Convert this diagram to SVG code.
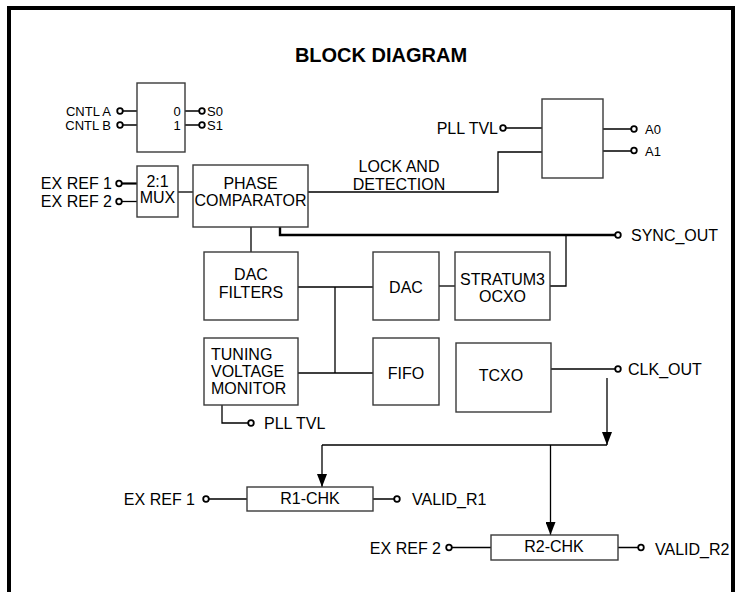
<svg xmlns="http://www.w3.org/2000/svg" width="739" height="592" viewBox="0 0 739 592">
<style>
.box{fill:#fff;stroke:#3a3a3a;stroke-width:1.4}
.ln{fill:none;stroke:#000;stroke-width:1.3}
.pin{fill:#fff;stroke:#000;stroke-width:1.8}
text{font-family:"Liberation Sans",Arial,sans-serif;font-size:16px;fill:#000}
.s{font-size:13px}
.c{text-anchor:middle}
.r{text-anchor:end}
</style>
<defs>
<marker id="arr" markerWidth="10" markerHeight="13" refX="5" refY="13" orient="0" markerUnits="userSpaceOnUse">
<path d="M0,0 L10,0 L5,13 Z" fill="#000"/>
</marker>
</defs>
<rect x="0" y="0" width="739" height="592" fill="#fff"/>
<path d="M9,600 V8 H733 V600" fill="none" stroke="#000" stroke-width="4"/>
<text x="381" y="62" class="c" style="font-size:20px;font-weight:bold">BLOCK DIAGRAM</text>

<g id="connectors">
<path class="ln" d="M123,111 H137 M123,125 H137 M185,111 H199 M185,125 H199"/>
<path class="ln" d="M122,183.5 H137" style="stroke-width:2.2"/>
<path class="ln" d="M122,201.5 H137"/>
<path class="ln" d="M178,192 H193"/>
<path class="ln" d="M308,192 H498 V152 H542"/>
<path class="ln" d="M506,128 H542"/>
<path class="ln" d="M603,129 H631 M603,151 H631"/>
<path class="ln" d="M280,227 V235 H615" style="stroke-width:2.4"/>
<path class="ln" d="M251,227 V252"/>
<path class="ln" d="M298,287 H373 M298,373 H373 M335,287 V373"/>
<path class="ln" d="M439,286 H455"/>
<path class="ln" d="M550,286 H566 V235"/>
<path class="ln" d="M551,369 H615"/>
<path class="ln" d="M607,378 V445" marker-end="url(#arr)"/>
<path class="ln" d="M607,445 H322"/>
<path class="ln" d="M322,445 V487" marker-end="url(#arr)"/>
<path class="ln" d="M550.5,445 V535" marker-end="url(#arr)"/>
<path class="ln" d="M222,405 V423 H248"/>
<path class="ln" d="M209,499 H247 M373,499 H394"/>
<path class="ln" d="M452,547.5 H491 M618,547.5 H638"/>
</g>

<g id="sel">
<rect class="box" x="137" y="83" width="48" height="69"/>
<text x="177" y="115.5" class="s c">0</text>
<text x="177" y="129.5" class="s c">1</text>
</g>
<g id="cntl">
<text x="111" y="115.5" class="s r">CNTL A</text>
<text x="111" y="129.5" class="s r">CNTL B</text>
<circle class="pin" cx="120" cy="111" r="2.8"/>
<circle class="pin" cx="120" cy="125" r="2.8"/>
<circle class="pin" cx="202" cy="111" r="2.8"/>
<circle class="pin" cx="202" cy="125" r="2.8"/>
<text x="207" y="115.5" class="s">S0</text>
<text x="207" y="129.5" class="s">S1</text>
</g>
<g id="mux">
<rect class="box" x="137" y="166" width="41" height="51"/>
<text x="157.5" y="187" class="c">2:1</text>
<text x="157.5" y="203" class="c">MUX</text>
</g>
<g id="exref-top">
<text x="112" y="189" class="r">EX REF 1</text>
<text x="112" y="207" class="r">EX REF 2</text>
<circle class="pin" cx="119" cy="183.5" r="2.8"/>
<circle class="pin" cx="119" cy="201.5" r="2.8"/>
</g>
<g id="phase">
<rect class="box" x="193" y="165" width="115" height="62"/>
<text x="250.5" y="189" class="c">PHASE</text>
<text x="250.5" y="206" class="c">COMPARATOR</text>
</g>
<g id="lock">
<text x="399" y="172" class="c">LOCK AND</text>
<text x="399" y="190" class="c">DETECTION</text>
</g>
<g id="alarm">
<rect class="box" x="542" y="99" width="61" height="79"/>
<text x="498" y="134" class="r">PLL TVL</text>
<circle class="pin" cx="503" cy="128" r="2.8"/>
<circle class="pin" cx="634" cy="129" r="2.8"/>
<circle class="pin" cx="634" cy="150.5" r="2.8"/>
<text x="645" y="134" class="s">A0</text>
<text x="645" y="156" class="s">A1</text>
</g>
<g id="sync">
<circle class="pin" cx="618" cy="235" r="2.8"/>
<text x="631" y="241">SYNC_OUT</text>
</g>
<g id="dacfilters">
<rect class="box" x="204" y="252" width="94" height="68"/>
<text x="251" y="280" class="c">DAC</text>
<text x="251" y="298" class="c">FILTERS</text>
</g>
<g id="tvm">
<rect class="box" x="204" y="338" width="94" height="67"/>
<text x="211" y="359.5">TUNING</text>
<text x="211" y="376.5">VOLTAGE</text>
<text x="211" y="393.5">MONITOR</text>
</g>
<g id="pll-bottom">
<circle class="pin" cx="251" cy="423" r="2.8"/>
<text x="264" y="429">PLL TVL</text>
</g>
<g id="dac">
<rect class="box" x="373" y="252" width="66" height="68"/>
<text x="406" y="293" class="c">DAC</text>
</g>
<g id="fifo">
<rect class="box" x="373" y="338" width="66" height="67"/>
<text x="406" y="378.5" class="c">FIFO</text>
</g>
<g id="ocxo">
<rect class="box" x="455" y="252" width="95" height="68"/>
<text x="502.5" y="285" class="c">STRATUM3</text>
<text x="502.5" y="302" class="c">OCXO</text>
</g>
<g id="tcxo">
<rect class="box" x="456" y="343" width="95" height="69"/>
<text x="501" y="380.5" class="c">TCXO</text>
</g>
<g id="clk">
<circle class="pin" cx="618" cy="369" r="2.8"/>
<text x="628" y="375">CLK_OUT</text>
</g>
<g id="r1chk">
<rect class="box" x="247" y="487" width="126" height="24"/>
<text x="310" y="503.5" class="c">R1-CHK</text>
<text x="195" y="505" class="r">EX REF 1</text>
<circle class="pin" cx="206" cy="499" r="2.8"/>
<circle class="pin" cx="397" cy="499" r="2.8"/>
<text x="412" y="505">VALID_R1</text>
</g>
<g id="r2chk">
<rect class="box" x="491" y="535" width="127" height="25"/>
<text x="554" y="552" class="c">R2-CHK</text>
<text x="441" y="554" class="r">EX REF 2</text>
<circle class="pin" cx="449" cy="547.5" r="2.8"/>
<circle class="pin" cx="641" cy="547.5" r="2.8"/>
<text x="655" y="555">VALID_R2</text>
</g>
</svg>
